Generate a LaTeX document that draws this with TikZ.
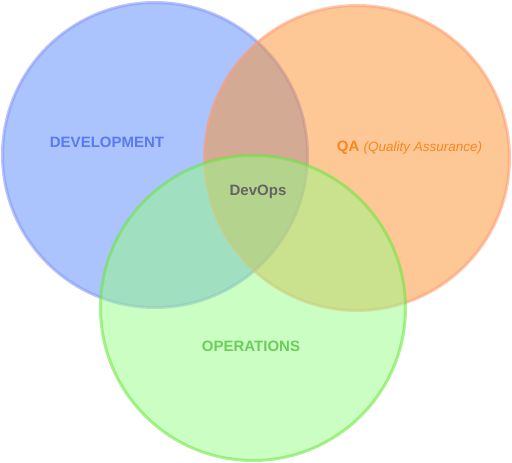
\documentclass[tikz,border=0pt]{standalone}
\usepackage{fontspec}
\setmainfont{Liberation Sans}
\definecolor{devblue}{RGB}{87,137,251}
\definecolor{qaorange}{RGB}{253,145,45}
\definecolor{opsgreen}{RGB}{151,253,135}
\definecolor{devline}{RGB}{133,149,247}
\definecolor{qaline}{RGB}{253,155,114}
\definecolor{opsline}{RGB}{107,229,58}
\definecolor{devtext}{RGB}{90,122,240}
\definecolor{qatext}{RGB}{249,135,30}
\definecolor{opstext}{RGB}{108,205,90}
\definecolor{mixtext}{RGB}{100,100,100}
\tikzset{
  venn/.style={circle, minimum size=305pt, inner sep=0pt, line width=3pt, fill opacity=.5, draw opacity=.55},
  lbl/.style={font=\fontsize{15}{18}\selectfont\bfseries, inner sep=0pt}
}
\begin{document}
\begin{tikzpicture}[x=1pt,y=-1pt]
\useasboundingbox (0,0) rectangle (512,463);
\node[venn, fill=devblue, draw=devline] (dev) at (155,155){};
\node[venn, fill=qaorange, draw=qaline] (qa) at (357,158){};
\node[venn, fill=opsgreen, draw=opsline] (ops) at (253,308){};
\node[lbl, text=devtext] (devlbl) at (107,142){DEVELOPMENT};
\node[lbl, text=qatext] (qalbl) at (409.5,148){QA {\fontsize{13.5}{16}\selectfont\mdseries\itshape(Quality Assurance)}};
\node[lbl, text=mixtext] (devops) at (258,192){DevOps};
\node[lbl, text=opstext] (opslbl) at (251,346){OPERATIONS};
\end{tikzpicture}
\end{document}
